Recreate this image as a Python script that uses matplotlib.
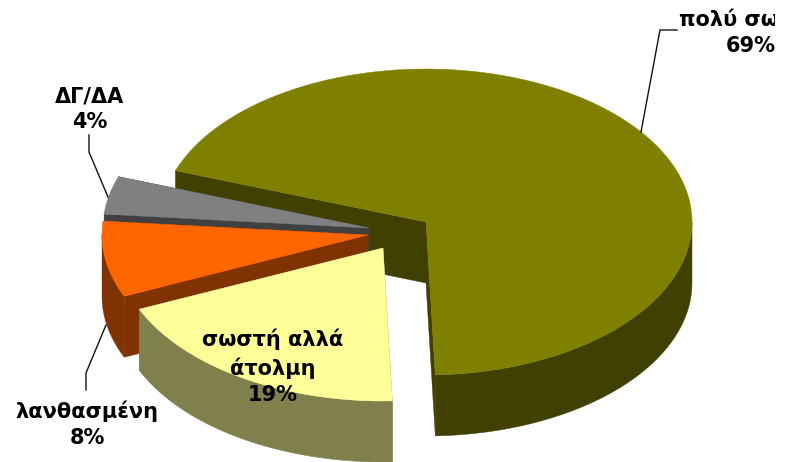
import numpy as np
import matplotlib
matplotlib.use("Agg")
import matplotlib.pyplot as plt
from matplotlib.patches import Polygon, Rectangle

# Data
categories = ["πολύ σωστή", "ΔΓ/ΔΑ", "λανθασμένη", "σωστή αλλά\nάτολμη"]
shares = [69, 4, 8, 19]
top_colors = ["#808000", "#808080", "#FF6600", "#FFFF99"]
wall_colors = ["#404000", "#404040", "#803300", "#80804D"]
apexes = [(426, 222), (369, 228), (368, 235), (383, 248)]
label_xy = [(751, 18), (90, 96), (87, 410), (273, 339)]
leaders = [[(677, 30), (660, 30), (641, 132)],
           [(89, 135), (89, 152), (108, 197)],
           [(86, 390), (86, 373), (106, 325)]]

START = -88.0
RX, RY, DEPTH = 266.0, 153.0, 61.0

fig = plt.figure(figsize=(7.89, 4.62), dpi=100, facecolor="white")
ax = fig.add_axes([0, 0, 1, 1])
ax.set_xlim(0, 789)
ax.set_ylim(462, 0)
ax.axis("off")


def rim(apex, a0, a1, n=160):
    t = np.radians(np.linspace(a0, a1, n))
    return np.column_stack([apex[0] + RX * np.cos(t), apex[1] - RY * np.sin(t)])


def drop(pts):
    return pts + np.array([0, DEPTH])


def face(pts, color, z):
    ax.add_patch(Polygon(pts, closed=True, facecolor=color, edgecolor=color,
                         linewidth=0.3, zorder=z))


def quad(a, b):
    a, b = np.array(a, float), np.array(b, float)
    return np.array([a, b, b + [0, DEPTH], a + [0, DEPTH]])


angle = START
for i, (share, apex, top, wall) in enumerate(zip(shares, apexes, top_colors, wall_colors)):
    sweep = share / sum(shares) * 360
    a0, a1 = angle, angle + sweep
    angle = a1
    base = i * 10
    arc = rim(apex, a0, a1)
    # cut faces (back first)
    face(quad(apex, arc[-1]), wall, base + 1)
    face(quad(apex, arc[0]), wall, base + 2)
    # outer wall: only the part of the rim that faces the viewer
    if i == 0:
        lo, hi = a0, 0.0
    elif a1 <= 180:
        lo, hi = a0, a0
    else:
        lo, hi = max(a0, 180.0), a1
    if hi > lo:
        w = rim(apex, lo, hi)
        face(np.vstack([w, drop(w)[::-1]]), wall, base + 3)
    face(np.vstack([[apex], arc]), top, base + 4)

texts = [(categories[0] + "\n69%", 0), (categories[1] + "\n4%", 1),
         (categories[2] + "\n8%", 2), (categories[3] + "\n19%", 3)]
clip = Rectangle((0, 0), 775, 462, transform=ax.transData)
for (s, i) in texts:
    t = ax.text(label_xy[i][0], label_xy[i][1] - 10, s, ha="center", va="top",
                fontsize=15, fontweight="bold", family="DejaVu Sans",
                color="black", linespacing=1.38, zorder=60, clip_on=True)
    t.set_clip_path(clip)

for pts in leaders:
    xs, ys = zip(*pts)
    ax.plot(xs, ys, color="#111111", lw=1.0, zorder=55, solid_joinstyle="miter")

fig.savefig("out.png", dpi=100, facecolor="white")
